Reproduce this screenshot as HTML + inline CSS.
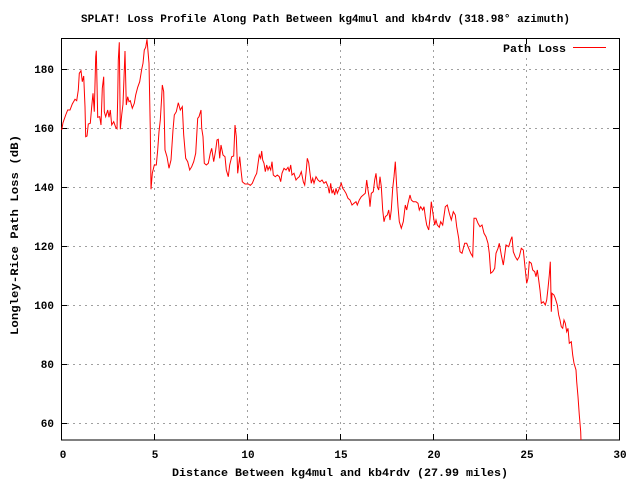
<!DOCTYPE html>
<html><head><meta charset="utf-8"><style>
html,body{margin:0;padding:0;background:#fff;}
svg{display:block;}
text{font-family:"Liberation Mono","DejaVu Sans Mono",monospace;font-weight:bold;font-size:11px;fill:#000;}
</style></head><body>
<svg width="640" height="480" viewBox="0 0 640 480" xmlns="http://www.w3.org/2000/svg">
<rect width="640" height="480" fill="#fff"/>
<g stroke="#a0a0a0" stroke-width="1" stroke-dasharray="2,4" shape-rendering="crispEdges">
<line x1="61" y1="69.5" x2="619" y2="69.5"/>
<line x1="61" y1="128.5" x2="619" y2="128.5"/>
<line x1="61" y1="187.5" x2="619" y2="187.5"/>
<line x1="61" y1="246.5" x2="619" y2="246.5"/>
<line x1="61" y1="305.5" x2="619" y2="305.5"/>
<line x1="61" y1="364.5" x2="619" y2="364.5"/>
<line x1="61" y1="423.5" x2="619" y2="423.5"/>
<line x1="154.5" y1="38" x2="154.5" y2="440"/>
<line x1="247.5" y1="38" x2="247.5" y2="440"/>
<line x1="340.5" y1="38" x2="340.5" y2="440"/>
<line x1="433.5" y1="38" x2="433.5" y2="440"/>
<line x1="526.5" y1="58" x2="526.5" y2="440"/>
</g>
<g stroke="#000" stroke-width="1" shape-rendering="crispEdges">
<line x1="61" y1="69.5" x2="67" y2="69.5"/><line x1="613" y1="69.5" x2="619" y2="69.5"/>
<line x1="61" y1="128.5" x2="67" y2="128.5"/><line x1="613" y1="128.5" x2="619" y2="128.5"/>
<line x1="61" y1="187.5" x2="67" y2="187.5"/><line x1="613" y1="187.5" x2="619" y2="187.5"/>
<line x1="61" y1="246.5" x2="67" y2="246.5"/><line x1="613" y1="246.5" x2="619" y2="246.5"/>
<line x1="61" y1="305.5" x2="67" y2="305.5"/><line x1="613" y1="305.5" x2="619" y2="305.5"/>
<line x1="61" y1="364.5" x2="67" y2="364.5"/><line x1="613" y1="364.5" x2="619" y2="364.5"/>
<line x1="61" y1="423.5" x2="67" y2="423.5"/><line x1="613" y1="423.5" x2="619" y2="423.5"/>
<line x1="154.5" y1="434" x2="154.5" y2="440"/><line x1="154.5" y1="38" x2="154.5" y2="44"/>
<line x1="247.5" y1="434" x2="247.5" y2="440"/><line x1="247.5" y1="38" x2="247.5" y2="44"/>
<line x1="340.5" y1="434" x2="340.5" y2="440"/><line x1="340.5" y1="38" x2="340.5" y2="44"/>
<line x1="433.5" y1="434" x2="433.5" y2="440"/><line x1="433.5" y1="38" x2="433.5" y2="44"/>
<line x1="526.5" y1="434" x2="526.5" y2="440"/><line x1="526.5" y1="38" x2="526.5" y2="44"/>
<rect x="61.5" y="38.5" width="558" height="401.5" fill="none"/>
</g>
<g text-anchor="end">
<text x="54" y="73">180</text><text x="54" y="132">160</text><text x="54" y="191">140</text>
<text x="54" y="250">120</text><text x="54" y="309">100</text><text x="54" y="368">80</text><text x="54" y="427">60</text>
</g>
<g text-anchor="middle">
<text x="63" y="458">0</text><text x="155" y="458">5</text><text x="248" y="458">10</text>
<text x="341" y="458">15</text><text x="434" y="458">20</text><text x="527" y="458">25</text><text x="620" y="458">30</text>
</g>
<text x="81" y="22" textLength="489" lengthAdjust="spacingAndGlyphs">SPLAT! Loss Profile Along Path Between kg4mul and kb4rdv (318.98° azimuth)</text>
<text x="172" y="476" textLength="336" lengthAdjust="spacingAndGlyphs">Distance Between kg4mul and kb4rdv (27.99 miles)</text>
<text transform="translate(18,335) rotate(-90)" textLength="200" lengthAdjust="spacingAndGlyphs">Longley-Rice Path Loss (dB)</text>
<text x="503" y="52" textLength="63" lengthAdjust="spacingAndGlyphs">Path Loss</text>
<rect x="573" y="47" width="33" height="1" fill="#ff0000"/>
<svg x="61" y="38" width="559" height="402" viewBox="61 38 559 402" overflow="hidden">
<polyline fill="none" stroke="#f00" stroke-width="1" stroke-linejoin="miter" points="61.7,130 63,122.7 65.7,115 67.7,110 70,110 72.3,104 75,99.3 76.7,100.7 78.3,90 79.3,73.3 81,70.7 82.3,81.7 83.7,76 85,106.7 85.7,136.7 87,136 88.3,124 90.3,123.3 91.7,106.7 93,93.3 94.3,111.7 95.7,56.7 96.3,50.7 97,83.3 97.7,117.3 99.7,116.7 101,125 102.3,88.3 103.7,76.7 104.3,111.7 105.7,116.7 107.7,110 109,117.3 110.3,110 111.7,125 113.7,121.7 115.7,127.3 117,128.7 117.7,98.3 118.3,60 119.3,42.3 120.3,129.3 121.7,115 123,104 124.3,70 125,51 126.3,105 127.7,96.7 129,101.7 130.3,100.7 132.3,108.3 134.3,103.3 135.7,95 137.7,87.3 139.7,81.7 141.7,69.3 143,63.3 144.3,50 145.7,47.3 147,39.3 149,63.3 150.3,130 151,189.3 152.3,173.3 154.3,165 156.3,165 157.7,150 159,131.7 160.3,120 161.7,96.7 162.3,85 163.7,91.7 165,150 167,156.7 169,168.3 171,160 173,130 174.3,115 176.3,111.7 178.3,102.7 180.3,110 182.3,106.7 183.7,135 185.7,158.3 187.7,161.7 189.7,170 191.7,166.7 193.7,161.7 195.7,153.3 197.7,118.3 199,116.7 201,110 201.7,128.3 203,136.7 204.3,163.3 206.3,165 208.3,163.3 210.3,153.3 211.7,148.3 213.7,161.7 215.7,150 217,140 218.3,139.3 219.7,158.3 221,145 223,155 225,156.7 226.3,170 228.3,176.7 229.7,165 231.7,156.7 233.7,156 235,125 236.3,136.7 237.7,173.3 239.7,156.7 241,170 242.3,181.7 245,184 248.3,184 250.3,185.3 252.3,183.3 255,176.7 256.7,173.3 258.3,161.7 259.3,155 260.7,158.3 261.7,151 262.7,160 264,163.3 265.3,171.7 266.7,165 268,170 269.3,166.7 270.7,170 272,161.7 273.3,175 275.3,176.7 277.3,175 279.3,176.7 280.7,181.7 282,173.3 284,168.3 286,170 288,167.3 289.3,171.7 290.7,165 292,175 294,173.3 296,180 297.3,178.3 299.3,176.7 301.3,171.7 303.3,181.7 304.7,185 306,173.3 307.3,158.3 308.7,162.7 310,173.3 311.3,183.3 312.7,178.3 314,183.3 316,176.7 318,180 320,181.7 322,180 324,183.3 326,181.7 328,186.7 329.3,193.3 330.7,183.3 332,193.3 333.3,190 334.7,195 336,188.3 337.3,193.3 338.7,190 340,186.7 341.3,183.3 342.7,188.3 344,190 346,193.3 348,198.3 350,200 352,205 354,203.3 356,201.7 357.3,205 359.3,200 361.3,196.7 363.3,195 365.3,193.3 366.7,180 368,190 369.3,198.3 370,206.7 371.3,193.3 373.3,191.7 374.7,180 376,173.3 377.3,186.7 378.7,190 380,176.7 381.3,186.7 382.7,210 384,221.7 385.3,216.7 387.3,215 388.7,210 390,220 391.3,210 392.7,188.3 394,176.7 395.3,161.7 396.7,186.7 398,206.7 399.3,221.7 401.3,228.3 403.3,221.7 405.3,205 406.7,210 408,203.3 410,195 411.3,200 413.3,201.7 416,201.7 418,203.3 419.3,210 420.7,206.7 422.7,210 424,206.7 425.3,216.7 426.7,225 428.7,230 430,218.3 431.3,201.7 432.7,211.7 434.7,225 436,220 437.3,225 439.3,227.3 440.7,221.7 442.7,225 445.3,206.7 447.3,205 449.3,213.3 451.3,220 453.3,211.7 455.3,215 456.7,226.7 458.7,238.3 460,251.7 462,253.3 464.7,243.3 466.7,243.3 468.7,248.3 470.7,253.3 472.7,256.7 474,218.3 476,218.3 478,223.3 480,226.7 482,225 484,233.3 486,236.7 488,243.3 489.3,253.3 490.7,273.3 492.7,271.7 494.7,268.3 496,253.3 498,248.3 499.3,243.3 501.3,255 503.3,265 504.7,255 506,245 508.7,246.7 510.7,240 512,236.7 513.3,251.7 515.3,256.7 517.3,260 519.3,256.7 521.3,248.3 523.3,250 525.3,270 526.7,283.3 528,278.3 529.3,261.7 531.3,263.3 532.7,270 534.7,271.7 536,276.7 537.3,270 538.7,280 540,290 541.3,303.3 543.3,301.7 545.3,305 546.7,300 548,288.3 549.3,275 550.3,261.7 551.3,311.7 552,293.3 554,295 555.3,298.3 557.3,305 558.7,315 560,320 561.3,326.7 562.7,328.3 564,320 565.3,323.3 566.7,331.7 568,328.3 569.3,343.3 571.3,341.7 572.7,355 574,363.3 576,370 576.7,381.7 578,396.7 579.3,415 580.7,431.7 581,441"/>
</svg>
</svg>
</body></html>
